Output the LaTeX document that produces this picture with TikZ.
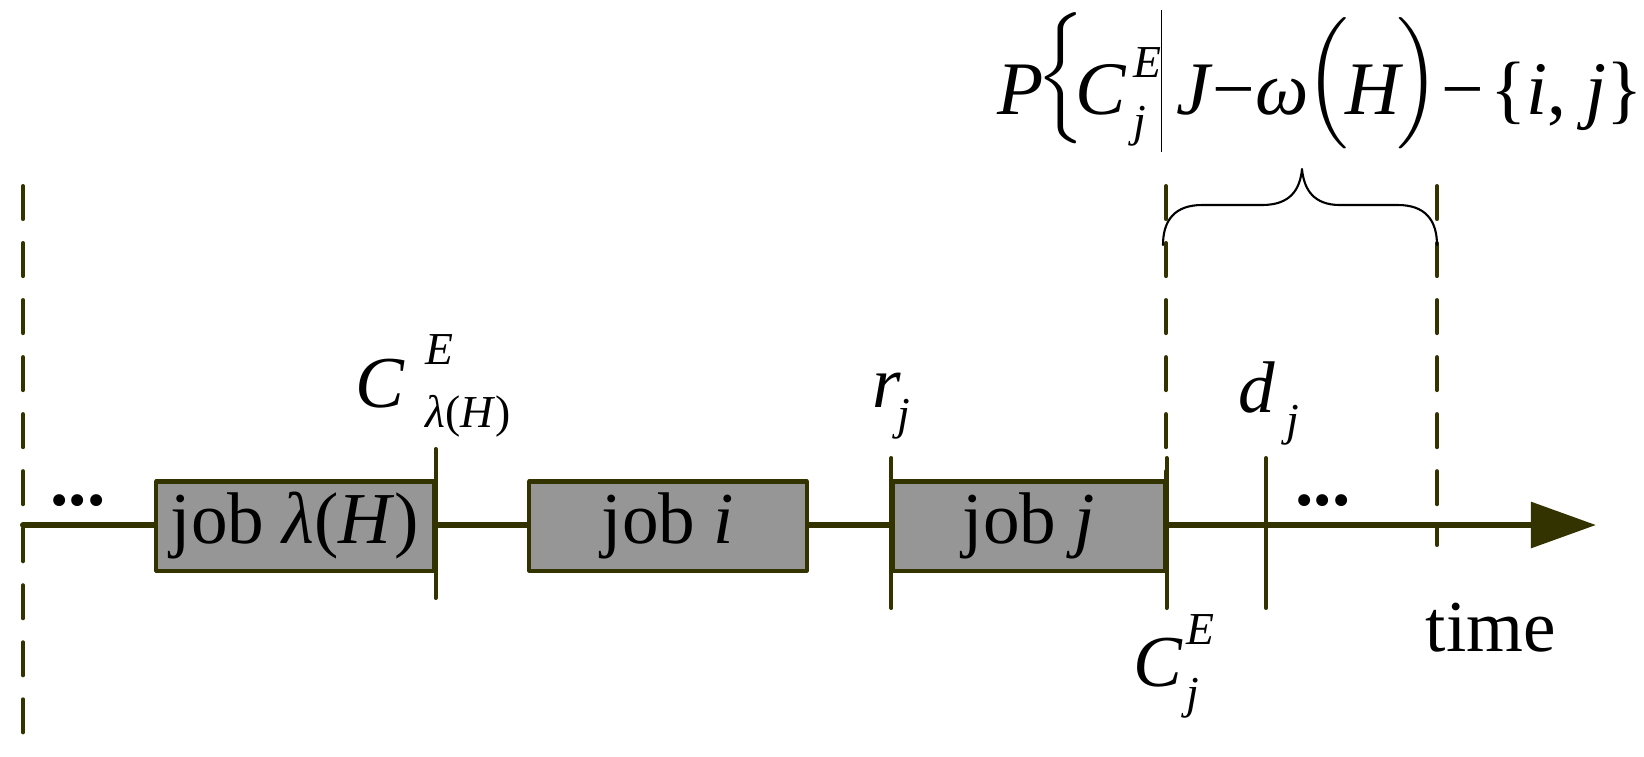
\documentclass[tikz,border=0pt]{standalone}
\usepackage{amsmath}
\usepackage{fontspec}
\setmainfont{Liberation Serif}
\usetikzlibrary{arrows.meta}
\definecolor{axiscol}{RGB}{51,51,0}
\definecolor{boxgray}{RGB}{150,150,150}
\newcommand{\vv}[1]{\textit{#1}}
\newcommand{\scriptsz}{\fontsize{13pt}{14pt}\selectfont}
% stacked scripts: sup, sub, raise of sup, raise of sub
\newcommand{\scr}[4]{\rlap{\raisebox{#3}{\scriptsz #1}}\raisebox{#4}{\scriptsz #2}}
% delimiter of a given height, raised
\newcommand{\delim}[3]{\raisebox{#3}{$\left#1\vcenter{\hbox{\rule{0pt}{#2}}}\right.$}}

\begin{document}
\begin{tikzpicture}[line cap=round,line join=round,x=0.01cm,y=-0.01cm,
  font=\fontsize{20.8pt}{24pt}\selectfont,
  lbl/.style={inner sep=0pt,anchor=base west},
  jobbox/.style={draw=axiscol,fill=boxgray,line width=1.15pt,minimum width=2.77cm,minimum height=0.89cm,inner sep=0pt},
  tickline/.style={axiscol,line width=1.15pt},
  guideline/.style={axiscol,line width=1.15pt,dash pattern=on 0.33cm off 0.24cm}]
\useasboundingbox (0,0) rectangle (1644,756);
% time axis
\coordinate (t0) at (23,525);
\coordinate (tend) at (1596,525);
\draw [axiscol,line width=1.7pt,-{Triangle[length=0.65cm,width=0.45cm]}] (t0) -- (tend);
% jobs
\node [jobbox] (jobL) at (295,526) {job \vv{λ}(\vv{H})};
\node [jobbox] (jobI) at (668,526) {job \vv{i}};
\node [jobbox,minimum width=2.71cm] (jobJ) at (1029,526) {job \vv{j}};
\coordinate (dj) at (1266,525);
\draw [tickline] (jobL.east) ++(0,-77) -- ++(0,149);
\draw [tickline] (jobJ.west) ++(0,-68) -- ++(0,150);
\draw [tickline] (jobJ.east) ++(0,-68) -- ++(0,150);
\draw [tickline] (dj) ++(0,-67) -- ++(0,150);
% dashed guides
\coordinate (g0top) at (23,186);
\coordinate (g0bot) at (23,734);
\coordinate (g1top) at (1166,186);
\coordinate (g2top) at (1437,186);
\coordinate (g2bot) at (1437,545);
\draw [guideline] (g0top) -- (g0bot);
\draw [guideline] (g1top) -- (g1top |- jobJ.north);
\draw [guideline] (g2top) -- (g2bot);
% brace
\coordinate (braceL) at (1163,245);
\coordinate (braceTip) at (1302,169);
\coordinate (braceR) at (1437,245);
\draw [line width=0.6pt] (braceL) .. controls (1163,220) and (1175,205) .. (1202,205) -- (1262,205)
  .. controls (1290,205) and (1300,190) .. (braceTip)
  .. controls (1304,190) and (1314,205) .. (1340,205) -- (1398,205)
  .. controls (1425,205) and (1437,220) .. (braceR);
% labels
\node [lbl,font=\fontsize{21.5pt}{26pt}\selectfont] (prob) at (997,114) {\vv{P}\kern-2pt\delim{\{}{37pt}{5pt}\kern-4pt\vv{C}\kern2pt\scr{\vv{E}}{\vv{j}}{10.5pt}{-6.3pt}\kern4pt\rule[-10.8pt]{0.4pt}{40.4pt}\kern4pt\vv{J}−\vv{ω}\kern-1pt\delim{(}{30pt}{3.7pt}\kern-2pt\vv{H}\kern-2pt\delim{)}{30pt}{3.7pt}\kern-1pt−\kern2pt\{\vv{i}, \vv{j}\}\kern2pt\delim{\}}{37pt}{5pt}};
\node [lbl] (cLam) at (355,407) {\vv{C}\kern5.7pt\scr{\vv{E}}{\vv{λ}(\vv{H})}{12.2pt}{-5.7pt}};
\node [lbl] (rj) at (872,407) {\vv{r}\kern-1pt\raisebox{-6.5pt}{\scriptsz\vv{j}}};
\node [lbl] (dlab) at (1238,412) {\vv{d}\kern3pt\raisebox{-6.8pt}{\scriptsz\vv{j}}};
\node [lbl] (cj) at (1133,686) {\vv{C}\kern1pt\scr{\vv{E}}{\vv{j}}{11.7pt}{-6.3pt}};
\node [lbl] (timeL) at (1425,651) {time};
\node [inner sep=0pt,anchor=base] (dotsL) at (78,505) {\textbf{...}};
\node [inner sep=0pt,anchor=base] (dotsR) at (1323,505) {\textbf{...}};
\end{tikzpicture}
\end{document}
